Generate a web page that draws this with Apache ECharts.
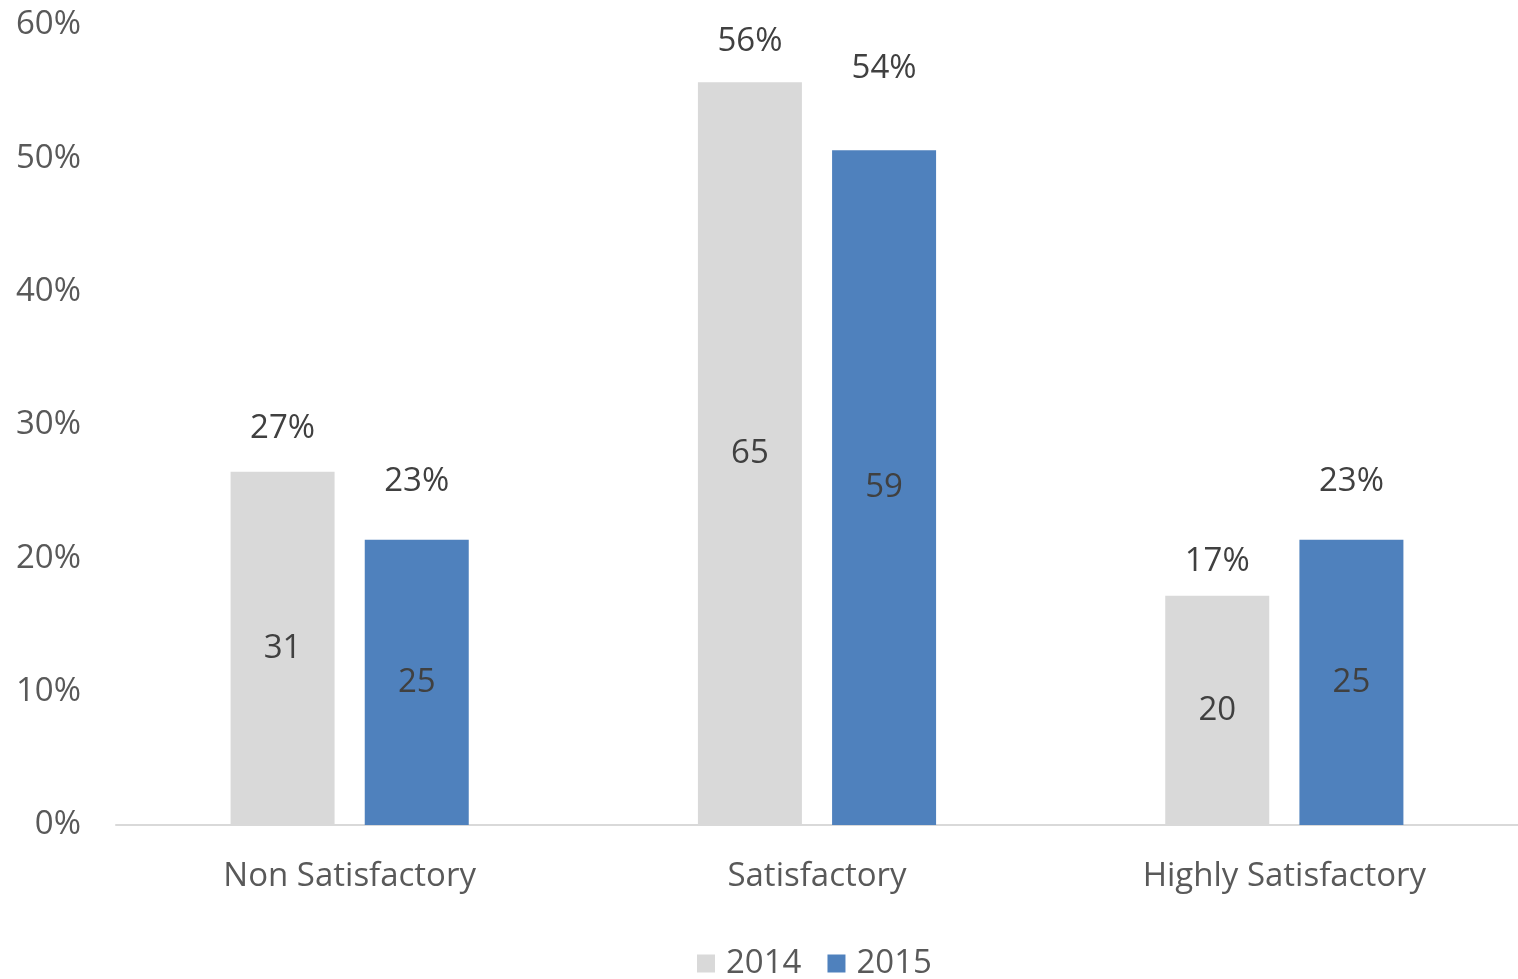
<!DOCTYPE html>
<html>
<head>
<meta charset="utf-8">
<script src="https://cdn.jsdelivr.net/npm/echarts@6/dist/echarts.min.js"></script>
<style>
  html, body { margin: 0; padding: 0; background: #fff; }
  #main { width: 1518px; height: 979px; }
</style>
</head>
<body>
<div id="main"></div>
<script>
var categories = ['Non Satisfactory', 'Satisfactory', 'Highly Satisfactory'];
var years = ['2014', '2015'];
// bar heights as drawn (percent)
var bars2014 = [26.5, 55.7, 17.2];
var bars2015 = [21.4, 50.6, 21.4];
// percent labels shown above the bars
var pct2014 = [27, 56, 17];
var pct2015 = [23, 54, 23];
// counts shown inside the bars
var count2014 = [31, 65, 20];
var count2015 = [25, 59, 25];
var yTicks = [0, 10, 20, 30, 40, 50, 60];

var chart = echarts.init(document.getElementById('main'));

var gridTop = 25, gridBottom = 154;
var plotH = 979 - gridTop - gridBottom;
var pxPer = plotH / yTicks[yTicks.length - 1];
var font = 'Open Sans';
var fs = 33;

function makeData(vals, pct) {
  return vals.map(function (v, i) {
    return {
      value: v,
      label: { offset: [0, -(pct[i] - v) * pxPer] }
    };
  });
}

// visible bar with the percent label on top
function pctSeries(name, vals, pct, color) {
  return {
    name: name,
    type: 'bar',
    xAxisIndex: 0,
    barWidth: 104,
    barGap: '29%',
    itemStyle: { color: color },
    data: makeData(vals, pct),
    label: {
      show: true,
      position: 'top',
      distance: 20,
      fontFamily: font,
      fontSize: fs,
      color: '#404040',
      formatter: function (p) { return pct[p.dataIndex] + '%'; }
    }
  };
}

// transparent twin on a hidden axis carrying the count label
function countSeries(name, vals, counts) {
  return {
    name: name,
    type: 'bar',
    xAxisIndex: 1,
    barWidth: 104,
    barGap: '29%',
    silent: true,
    itemStyle: { color: 'rgba(0,0,0,0)' },
    data: vals,
    label: {
      show: true,
      position: 'inside',
      fontFamily: font,
      fontSize: fs,
      color: '#404040',
      formatter: function (p) { return counts[p.dataIndex]; }
    },
    z: 3
  };
}

var option = {
  animation: false,
  backgroundColor: '#ffffff',
  grid: {
    left: 116,
    right: -6,
    top: gridTop,
    bottom: gridBottom
  },
  legend: {
    data: years,
    left: 692,
    top: 942,
    icon: 'rect',
    itemWidth: 18,
    itemHeight: 18,
    itemGap: 26,
    textStyle: {
      fontFamily: font,
      fontSize: fs,
      color: '#595959',
      padding: [0, 0, 0, 6]
    }
  },
  xAxis: [{
    type: 'category',
    data: categories,
    axisLine: { lineStyle: { color: '#d9d9d9', width: 2 } },
    axisTick: { show: false },
    axisLabel: {
      fontFamily: font,
      fontSize: fs,
      color: '#595959',
      margin: 35
    }
  }, {
    type: 'category',
    data: categories,
    show: false
  }],
  yAxis: {
    type: 'value',
    min: 0,
    max: 60,
    interval: 10,
    axisLine: { show: false },
    axisTick: { show: false },
    splitLine: { show: false },
    axisLabel: {
      fontFamily: font,
      fontSize: fs,
      color: '#595959',
      margin: 35,
      formatter: '{value}%'
    }
  },
  series: [
    pctSeries(years[0], bars2014, pct2014, '#d9d9d9'),
    pctSeries(years[1], bars2015, pct2015, '#4f81bd'),
    countSeries(years[0], bars2014, count2014),
    countSeries(years[1], bars2015, count2015)
  ]
};

chart.setOption(option);
</script>
</body>
</html>
